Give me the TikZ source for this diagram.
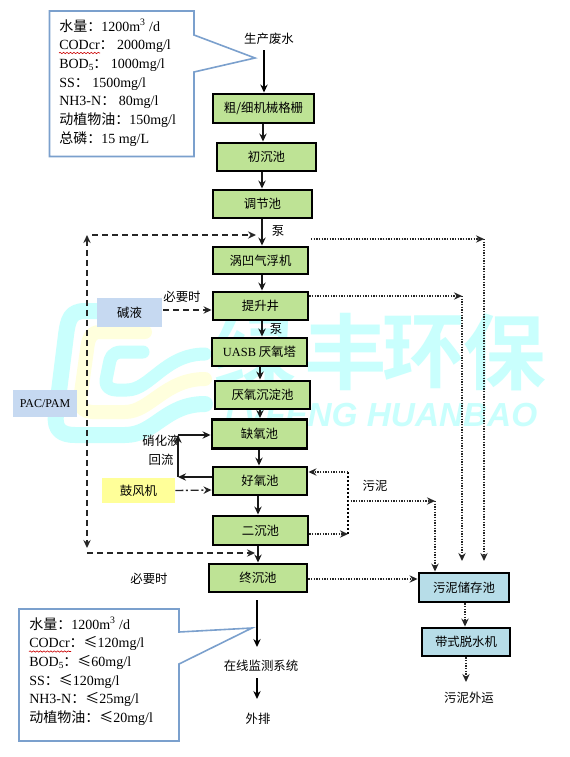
\documentclass[tikz,border=0pt]{standalone}
\usepackage{fontspec}
\setmainfont{Liberation Serif}
\newfontfamily\cjk{Noto Sans CJK SC}
\newfontfamily\cjkb{Noto Sans CJK SC Bold}
\newfontfamily\wmark{Liberation Sans}
\usetikzlibrary{arrows.meta,decorations.pathmorphing}
\definecolor{boxgreen}{HTML}{BEE395}
\definecolor{boxblue}{HTML}{B7DDE8}
\definecolor{softblue}{HTML}{C6D9F1}
\definecolor{softyellow}{HTML}{FFFF99}
\definecolor{calloutline}{HTML}{7BA0CD}
\definecolor{wmcyan}{HTML}{C9FFFD}
\definecolor{wmyellow}{HTML}{FFFFDD}
\tikzset{
  sz/.style 2 args={minimum width=#1*0.75pt,minimum height=#2*0.75pt},
  labeltext/.style={font=\fontsize{9.3}{11}\selectfont\cjk,inner sep=0pt},
  procbox/.style={draw=black,line width=2.2pt,fill=boxgreen,labeltext},
  storebox/.style={draw=black,line width=2.2pt,fill=boxblue,labeltext},
  softbox/.style={labeltext},
  tip/.style={-{Stealth[length=6pt,width=5.5pt,inset=2pt]}},
  flow/.style={tip,line width=1pt,draw=black!90},
  bigflow/.style={tip,line width=1.2pt,draw=black},
  dashflow/.style={tip,line width=1.1pt,dash pattern=on 4.5pt off 3pt,draw=black!85},
  dashboth/.style={{Stealth[length=6pt,width=5.5pt,inset=2pt]}-{Stealth[length=6pt,width=5.5pt,inset=2pt]},line width=1.1pt,dash pattern=on 4.5pt off 3pt,draw=black!85},
  dashdotflow/.style={tip,line width=1pt,dash pattern=on 6pt off 2pt on 1.5pt off 2pt,draw=black!85},
  dotflow/.style={tip,line width=1.1pt,dash pattern=on 1pt off 1pt,draw=black!85},
  dotheavy/.style={line width=1.7pt,dash pattern=on 1.5pt off 1.5pt,draw=black},
  callout/.style={draw=calloutline,line width=1.2pt,fill=white,line join=miter},
  callouttext/.style={anchor=north west,inner sep=0pt,align=left,font=\fontsize{10.5}{14}\selectfont},
  spell/.style={draw=red!80!black,line width=.45pt,decorate,decoration={snake,amplitude=.5pt,segment length=2.6pt}},
  wmband/.style={line width=#1*0.75pt,line cap=round,line join=round},
}
\begin{document}
\begin{tikzpicture}[x=0.75pt,y=-0.75pt]
\useasboundingbox (0,0) rectangle (569,757);
\fill[white] (0,0) rectangle (569,757);
% watermark logo
\draw[wmband=16,draw=wmcyan] (97,311) -- (85,311) .. controls (70,311) and (68,320) .. (66,335) -- (56,415) .. controls (54,430) and (62,435) .. (75,435) -- (125,435) .. controls (155,435) and (165,404) .. (205,404);
\draw[wmband=14,draw=wmyellow] (145,332) -- (100,332) .. controls (90,332) and (88,340) .. (87,350) -- (80,400) .. controls (79,408) and (85,412) .. (92,412) -- (125,412) .. controls (150,412) and (165,379) .. (205,379);
\draw[wmband=13,draw=wmcyan] (143,352) -- (122,352) .. controls (112,352) and (110,358) .. (109,365) -- (106,380) .. controls (105,386) and (110,390) .. (116,390) -- (127,390) .. controls (150,390) and (165,354) .. (205,354);
% watermark text
\node[inner sep=0pt,text=wmcyan,font=\fontsize{62}{64}\selectfont\cjkb] (wm1) at (255,352) {绿};
\node[inner sep=0pt,text=wmcyan,font=\fontsize{62}{64}\selectfont\cjkb] (wm2) at (346,352) {丰};
\node[inner sep=0pt,text=wmcyan,font=\fontsize{62}{64}\selectfont\cjkb] (wm3) at (424,352) {环};
\node[inner sep=0pt,text=wmcyan,font=\fontsize{62}{64}\selectfont\cjkb] (wm4) at (505,352) {保};
\node[inner sep=0pt,anchor=west,text=wmcyan,font=\fontsize{25}{27}\selectfont\wmark\bfseries\itshape] (wm5) at (224,415) {LVFENG HUANBAO};
% callouts
\draw[callout] (49.5,11) -- (194,11) -- (194,35) -- (255,58) -- (194,72) -- (194,156.5) -- (49.5,156.5) -- cycle;
\draw[callout] (19,609) -- (179,609) -- (179,632) -- (252,628) -- (179,664) -- (179,741) -- (19,741) -- cycle;
\node[callouttext] (inlet) at (59,19) {{\cjk 水量：}1200m\textsuperscript{3} /d\\
CODcr{\cjk：} 2000mg/l\\
BOD\raisebox{-1.5pt}{\fontsize{7}{7}\selectfont 5}{\cjk：} 1000mg/l\\
SS{\cjk：} 1500mg/l\\
NH3-N{\cjk：} 80mg/l\\
{\cjk 动植物油：}150mg/l\\
{\cjk 总磷：}15 mg/L};
\node[callouttext] (outlet) at (29,617) {{\cjk 水量：}1200m\textsuperscript{3} /d\\
CODcr{\cjk：}{\cjk ≤}120mg/l\\
BOD\raisebox{-1.5pt}{\fontsize{7}{7}\selectfont 5}{\cjk：}{\cjk ≤}60mg/l\\
SS{\cjk：}{\cjk ≤}120mg/l\\
NH3-N{\cjk：}{\cjk ≤}25mg/l\\
{\cjk 动植物油：}{\cjk ≤}20mg/l};
\draw[spell] (59,53) -- (100,53);
\draw[spell] (29,651.5) -- (71,651.5);
% process boxes
\node[procbox,sz={101}{29}] (grid) at (263.5,108.5) {粗/细机械格栅};
\node[procbox,sz={99}{28}] (prim) at (266.5,157) {初沉池};
\node[procbox,sz={99}{28}] (equal) at (262.5,204) {调节池};
\node[procbox,sz={95}{27}] (daf) at (260.5,260.5) {涡凹气浮机};
\node[procbox,sz={95}{28}] (lift) at (260.5,306) {提升井};
\node[procbox,sz={95}{28}] (uasb) at (259.5,352) {{\rmfamily UASB} 厌氧塔};
\node[procbox,sz={95}{28}] (anaset) at (262.5,395) {厌氧沉淀池};
\node[procbox,sz={95}{29}] (anox) at (259.5,434) {缺氧池};
\node[procbox,sz={94}{28}] (aero) at (260,481) {好氧池};
\node[procbox,sz={95}{29}] (secset) at (260.5,530.5) {二沉池};
\node[procbox,sz={98}{28}] (finset) at (258,578) {终沉池};
\node[storebox,sz={90}{29}] (store) at (464,587.5) {污泥储存池};
\node[storebox,sz={88}{28}] (press) at (466,642) {带式脱水机};
% side boxes
\node[softbox,fill=softblue,sz={65}{29}] (alkali) at (129.5,312.5) {碱液};
\node[softbox,fill=softblue,sz={64}{27},font=\fontsize{9}{11}\selectfont] (pac) at (45,403.5) {PAC/PAM};
\node[softbox,fill=softyellow,sz={73}{25}] (blower) at (138.5,490.5) {鼓风机};
% plain labels
\node[labeltext] (src) at (269,39) {生产废水};
\node[labeltext] (pump1) at (278,231) {泵};
\node[labeltext] (pump2) at (276,329) {泵};
\node[labeltext] (need1) at (182,297) {必要时};
\node[labeltext] (need2) at (149,579) {必要时};
\node[labeltext] (nit1) at (161,441) {硝化液};
\node[labeltext] (nit2) at (161,460) {回流};
\node[labeltext] (sludge) at (375,486) {污泥};
\node[labeltext] (monitor) at (261,666) {在线监测系统};
\node[labeltext] (disch) at (258,719) {外排};
\node[labeltext] (out) at (469,698) {污泥外运};
% free ends
\coordinate (dtl) at (87,235);
\coordinate (dbl) at (87,553);
\coordinate (rtop) at (484,239);
\coordinate (rmid) at (462,296);
\coordinate (sj) at (348,501);
\coordinate (sr) at (435,501);
\coordinate (stop) at (348,472);
\coordinate (sbot) at (348,534);
\coordinate (retc) at (178,435);
\coordinate (retb) at (178,477);
\coordinate (srcout) at (264,50);
\coordinate (finout) at (257,600);
\coordinate (monin) at (257,647);
\coordinate (monout) at (257,678);
\coordinate (disin) at (257,699);
% main flow
\draw[bigflow] (srcout) -- (264,0 |- grid.north);
\draw[flow] (263,0 |- grid.south) -- (263,0 |- prim.north);
\draw[flow] (262,0 |- prim.south) -- (262,0 |- equal.north);
\draw[flow] (262,0 |- equal.south) -- (262,0 |- daf.north);
\draw[flow] (262,0 |- daf.south) -- (262,0 |- lift.north);
\draw[flow] (262,0 |- lift.south) -- (262,0 |- uasb.north);
\draw[flow] (260,0 |- uasb.south) -- (260,0 |- anaset.north);
\draw[flow] (260,0 |- anaset.south) -- (260,0 |- anox.north);
\draw[flow] (259,0 |- anox.south) -- (259,0 |- aero.north);
\draw[flow] (258,0 |- aero.south) -- (258,0 |- secset.north);
\draw[flow] (258,0 |- secset.south) -- (258,0 |- finset.north);
\draw[bigflow] (finout) -- (monin);
\draw[bigflow] (monout) -- (disin);
% dashed dosing lines
\draw[dashflow] (92,235) -- (256,235);
\draw[dashboth] (dtl) -- (87,548);
\draw[dashflow] (dbl) -- (255,553);
\draw[dashflow] (alkali.east |- 0,310) ++(1,0) -- (lift.west |- 0,310);
\draw[dashdotflow] (blower.east) -- (aero.west |- 0,490);
% nitrate return
\draw[flow] (aero.west |- retb) -- (retb);
\draw[flow] (retb) -- (retc);
\draw[flow] (retc) -- (anox.west |- retc);
% sludge lines
\draw[dotflow] (secset.east |- sbot) -- (sbot);
\draw[dotheavy] (stop) -- (sbot);
\draw[dotflow] (stop) -- (aero.east |- stop);
\draw[dotflow] (sj) -- (sr);
\draw[dotflow] (sr) -- (sr |- store.north);
\draw[dotflow] (finset.east |- 0,579) -- (store.west |- 0,579);
\draw[dotflow] (lift.east |- 0,296) -- (rmid);
\draw[dotflow] (rmid) -- (462,561);
\draw[dotflow] (311,239) -- (rtop);
\draw[dotflow] (rtop) -- (484,561);
\draw[dotflow] (465,0 |- store.south) -- (465,0 |- press.north);
\draw[dotflow] (466,0 |- press.south) -- (466,682);
\end{tikzpicture}
\end{document}
